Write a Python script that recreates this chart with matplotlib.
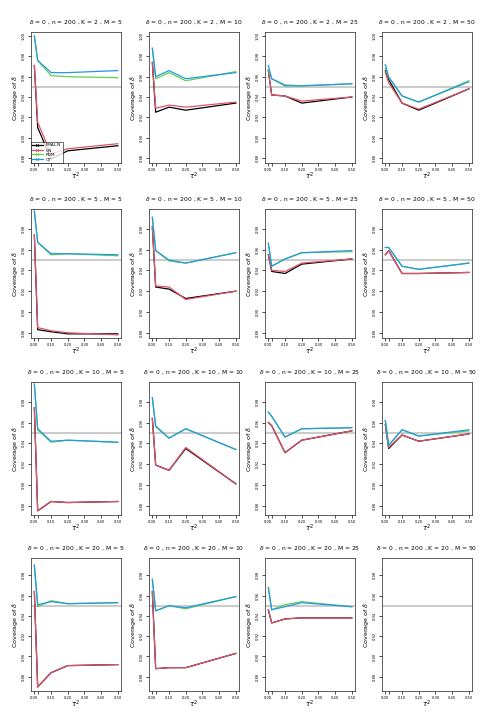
import numpy as np
import matplotlib
matplotlib.use("Agg")
import matplotlib.pyplot as plt

tau2 = [0.0, 0.02, 0.1, 0.2, 0.5]
K_vals = [2, 5, 10, 20]
M_vals = [5, 10, 25, 50]
methods = ["FMAL.N", "QN", "RDM", "QT"]
colors = ["black", "#DF536B", "#61D04F", "#2297E6"]

# coverage, one list per (K, M)
fmal = {
    (2, 5): [0.971, 0.910, 0.879, 0.887, 0.892],
    (2, 10): [0.974, 0.925, 0.930, 0.927, 0.934],
    (2, 25): [0.966, 0.942, 0.941, 0.934, 0.940],
    (2, 50): [0.966, 0.957, 0.934, 0.927, 0.948],
    (5, 5): [0.974, 0.883, 0.881, 0.879, 0.879],
    (5, 10): [0.982, 0.924, 0.922, 0.913, 0.920],
    (5, 25): [0.955, 0.939, 0.937, 0.946, 0.951],
    (5, 50): [0.955, 0.959, 0.937, 0.937, 0.938],
    (10, 5): [0.974, 0.875, 0.884, 0.883, 0.884],
    (10, 10): [0.964, 0.919, 0.914, 0.935, 0.901],
    (10, 25): [0.960, 0.957, 0.931, 0.943, 0.952],
    (10, 50): [0.958, 0.935, 0.948, 0.942, 0.949],
    (20, 5): [0.964, 0.870, 0.884, 0.891, 0.892],
    (20, 10): [0.964, 0.888, 0.889, 0.889, 0.903],
    (20, 25): [0.946, 0.933, 0.937, 0.938, 0.938],
}
qn = {
    (2, 5): [0.971, 0.915, 0.884, 0.889, 0.894],
    (2, 10): [0.974, 0.929, 0.932, 0.930, 0.935],
    (2, 25): [0.966, 0.942, 0.941, 0.936, 0.940],
    (2, 50): [0.964, 0.954, 0.934, 0.928, 0.948],
    (5, 5): [0.974, 0.885, 0.882, 0.880, 0.878],
    (5, 10): [0.982, 0.925, 0.924, 0.912, 0.920],
    (5, 25): [0.955, 0.940, 0.939, 0.947, 0.951],
    (5, 50): [0.955, 0.959, 0.937, 0.937, 0.938],
    (10, 5): [0.974, 0.875, 0.884, 0.883, 0.884],
    (10, 10): [0.964, 0.919, 0.914, 0.936, 0.901],
    (10, 25): [0.960, 0.957, 0.931, 0.943, 0.952],
    (10, 50): [0.958, 0.936, 0.948, 0.942, 0.949],
    (20, 5): [0.964, 0.870, 0.884, 0.891, 0.892],
    (20, 10): [0.964, 0.888, 0.889, 0.889, 0.903],
    (20, 25): [0.946, 0.933, 0.937, 0.938, 0.938],
}
rdm = {
    (2, 5): [1.000, 0.976, 0.961, 0.960, 0.959],
    (2, 10): [0.988, 0.958, 0.964, 0.956, 0.965],
    (2, 25): [0.967, 0.958, 0.952, 0.951, 0.953],
    (2, 50): [0.968, 0.959, 0.941, 0.935, 0.956],
    (5, 5): [0.997, 0.967, 0.955, 0.956, 0.954],
    (5, 10): [0.991, 0.959, 0.949, 0.947, 0.957],
    (5, 25): [0.966, 0.944, 0.951, 0.957, 0.958],
    (5, 50): [0.962, 0.962, 0.944, 0.941, 0.947],
    (10, 5): [0.997, 0.953, 0.941, 0.943, 0.941],
    (10, 10): [0.984, 0.957, 0.945, 0.954, 0.934],
    (10, 25): [0.970, 0.966, 0.946, 0.954, 0.955],
    (10, 50): [0.962, 0.938, 0.953, 0.947, 0.952],
    (20, 5): [0.990, 0.949, 0.955, 0.952, 0.953],
    (20, 10): [0.976, 0.945, 0.950, 0.947, 0.959],
    (20, 25): [0.968, 0.946, 0.951, 0.954, 0.949],
}
qt = {
    (2, 5): [1.000, 0.976, 0.964, 0.964, 0.966],
    (2, 10): [0.988, 0.960, 0.966, 0.958, 0.964],
    (2, 25): [0.971, 0.958, 0.951, 0.951, 0.953],
    (2, 50): [0.972, 0.960, 0.941, 0.935, 0.955],
    (5, 5): [0.997, 0.967, 0.956, 0.956, 0.955],
    (5, 10): [0.991, 0.959, 0.950, 0.947, 0.957],
    (5, 25): [0.966, 0.944, 0.951, 0.957, 0.959],
    (5, 50): [0.962, 0.962, 0.944, 0.941, 0.947],
    (10, 5): [0.997, 0.954, 0.942, 0.943, 0.941],
    (10, 10): [0.984, 0.956, 0.945, 0.954, 0.934],
    (10, 25): [0.970, 0.966, 0.946, 0.954, 0.955],
    (10, 50): [0.962, 0.938, 0.953, 0.947, 0.953],
    (20, 5): [0.990, 0.951, 0.954, 0.952, 0.953],
    (20, 10): [0.976, 0.945, 0.950, 0.948, 0.959],
    (20, 25): [0.968, 0.946, 0.949, 0.953, 0.949],
}
series = [fmal, qn, rdm, qt]

row_ylim = [(0.875, 1.004), (0.875, 0.999), (0.871, 0.999), (0.866, 0.997)]
col_left = [31, 149, 265, 382]
row_top = [32, 209, 382, 558]
row_h = [131, 129, 133, 133]
W, H = 495, 726

fig = plt.figure(figsize=(W / 100, H / 100), dpi=100)

for i, K in enumerate(K_vals):
    for j, M in enumerate(M_vals):
        ax = fig.add_axes([col_left[j] / W, 1 - (row_top[i] + row_h[i]) / H, 89.5 / W, row_h[i] / H])
        ax.axhline(0.95, color="#cccccc", lw=1.5, zorder=1)
        for s, c in zip(series, colors):
            if (K, M) in s:
                ax.plot(tau2, s[(K, M)], color=c, lw=0.9, zorder=2)
        ax.set_xlim(-0.02, 0.516)
        ax.set_xticks([0, 0.02, 0.1, 0.2, 0.3, 0.4, 0.5])
        ax.set_xticklabels(["0.00", "", "0.10", "0.20", "0.30", "0.40", "0.50"])
        yt = np.arange(0.86, 1.001, 0.02)
        ax.set_yticks(yt)
        ax.set_yticklabels(["%.2f" % v for v in yt], rotation=90, va="center")
        ax.tick_params(labelsize=2.6, length=2, width=0.5, pad=1.5)
        ax.set_ylim(*row_ylim[i])
        for sp in ax.spines.values():
            sp.set_linewidth(0.6)
            sp.set_color("#444444")
        ax.set_xlabel(r"$\tau^2$", fontsize=5, labelpad=-1)
        ax.set_ylabel(r"Coverage of $\hat{\delta}$", fontsize=4.6, labelpad=1)
        ax.set_title(r"$\delta$ = 0 , n = 200 , K = %d , M = %d" % (K, M), fontsize=4.3, pad=6)
        if i == 0 and j == 0:
            handles = [ax.plot([], [], color=c, lw=0.9, marker="x", ms=2, mew=0.5)[0] for c in colors]
            ax.legend(handles, methods, loc="lower left", fontsize=3, frameon=True,
                      fancybox=False, edgecolor="black", handlelength=2.5,
                      borderpad=0.3, labelspacing=0.2, borderaxespad=0).get_frame().set_linewidth(0.5)

fig.savefig("out.png", dpi=100)
